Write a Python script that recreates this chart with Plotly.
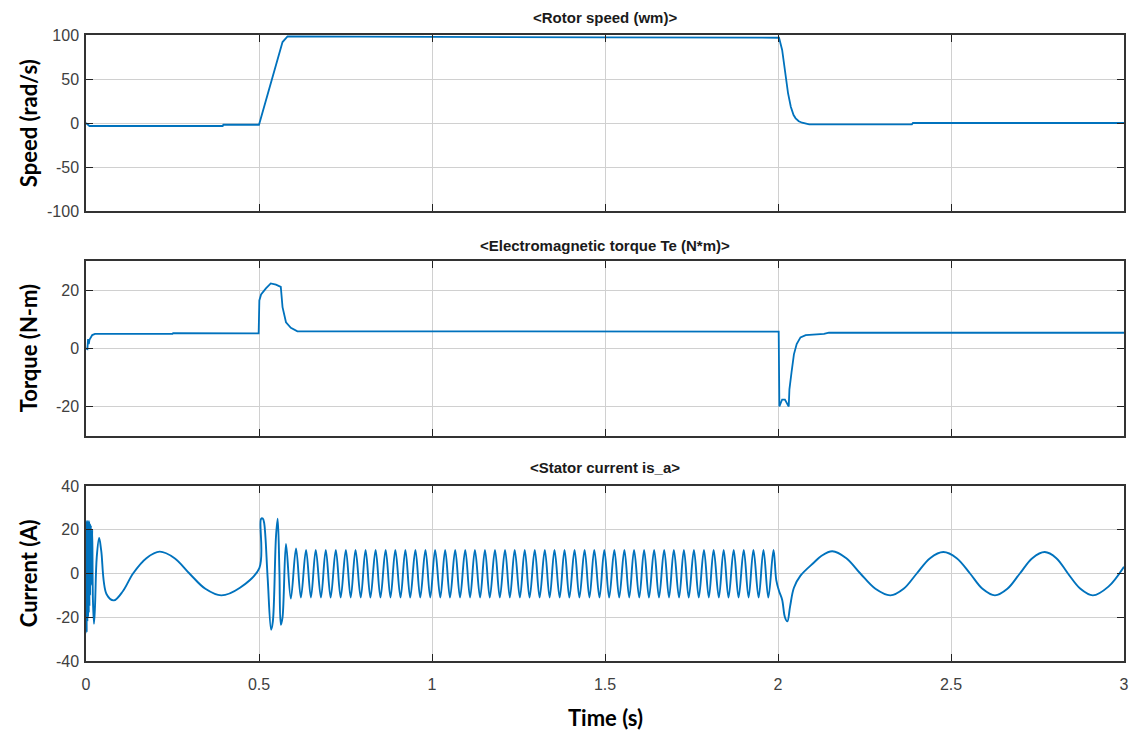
import plotly.graph_objects as go
from plotly.subplots import make_subplots

# ---------------- data ----------------
speed_t = [0, 0.004, 0.01, 0.395, 0.397, 0.5, 0.52, 0.539, 0.554, 0.568, 0.5825, 0.59,
           1.0, 1.5, 2.003, 2.012, 2.022, 2.029, 2.037, 2.045, 2.051, 2.06, 2.07, 2.09,
           2.387, 2.39, 3.0]
speed_v = [0, -1, -3.4, -3.4, -2, -2, 26, 52.6, 75, 92, 98.5, 98.5,
           97.8, 97.2, 96.9, 83, 51, 34, 18.5, 9, 5.3, 2, 0.3, -1.5,
           -1.5, 0, 0]

torque_t = [0, 0.004, 0.006, 0.008, 0.010, 0.013, 0.018, 0.026, 0.25, 0.252, 0.27, 0.272,
            0.499, 0.501, 0.506, 0.52, 0.534, 0.549, 0.563, 0.568, 0.578, 0.592, 0.611,
            2.002, 2.004, 2.012, 2.02, 2.031, 2.033, 2.039, 2.046, 2.054, 2.065, 2.08,
            2.104, 2.133, 2.147, 3.0]
torque_v = [0, -0.2, 3.2, 1.5, 3.0, 3.5, 4.6, 5.0, 5.0, 5.3, 5.3, 5.2,
            5.2, 16.5, 18.5, 20.6, 22.3, 21.9, 21.1, 14.2, 9, 7.1, 5.9,
            5.8, -19.9, -17.5, -17.5, -19.9, -14, -8.3, -2, 1.5, 3.8, 4.6,
            4.8, 5.0, 5.4, 5.4]

# stator current: start-up transient
cur_start_t = [0, 0.001, 0.002, 0.003, 0.004, 0.005, 0.006, 0.007, 0.008, 0.009, 0.010,
               0.011, 0.012, 0.014, 0.016, 0.018, 0.020, 0.023, 0.026, 0.031, 0.038, 0.044,
               0.0595, 0.0806, 0.107, 0.136, 0.1745, 0.213, 0.256, 0.299, 0.345, 0.391,
               0.445, 0.501]
cur_start_v = [0, 24, -27, 24, -22, 24, -20, 24, -18, 24, -15,
               23, -10, 22, -5, 20, -12, -23, -15, 7.4, 16.2, 10.5,
               -9.5, -12.3, -8, 0, 7, 10, 7, 0, -7, -10,
               -6.5, 2.5]
# speed-up burst
cur_burst_t = [0.506, 0.511, 0.515, 0.525, 0.535, 0.540, 0.549, 0.554, 0.559, 0.563, 0.568]
cur_burst_v = [25, 25.1, 23, -2, -25.7, -22, 16.6, 25, 1.2, -23.4, -20]
# steady high-speed oscillation: peaks and troughs
peak_t = [0.578, 0.607, 0.636, 0.664, 0.693, 0.722, 0.751, 0.779, 0.808, 0.837,
          0.866, 0.894, 0.923, 0.952, 0.981, 1.009, 1.038, 1.067, 1.096, 1.124,
          1.153, 1.182, 1.211, 1.239, 1.268, 1.297, 1.326, 1.354, 1.383, 1.412,
          1.441, 1.469, 1.498, 1.527, 1.556, 1.584, 1.613, 1.642, 1.671, 1.699,
          1.728, 1.757, 1.786, 1.814, 1.843, 1.872, 1.901, 1.929, 1.958, 1.987]
peak_v = [13.5, 11.5] + [10.8] * 48
trough_t = [0.592, 0.621, 0.650, 0.679, 0.707, 0.736, 0.765, 0.794, 0.822, 0.851,
            0.880, 0.909, 0.937, 0.966, 0.995, 1.024, 1.052, 1.081, 1.110, 1.139,
            1.167, 1.196, 1.225, 1.254, 1.282, 1.311, 1.340, 1.369, 1.397, 1.426,
            1.455, 1.484, 1.512, 1.541, 1.570, 1.599, 1.627, 1.656, 1.685, 1.714,
            1.742, 1.771, 1.800, 1.829, 1.857, 1.886, 1.915, 1.944, 1.972]
trough_v = [-11.5] + [-11] * 48
# braking transient and low-speed sine
cur_end_t = [1.995, 2.003, 2.012, 2.020, 2.027, 2.035, 2.046, 2.065, 2.104, 2.125, 2.157,
             2.1975, 2.238, 2.2815, 2.325, 2.363, 2.401, 2.4395, 2.478, 2.5165, 2.555, 2.591,
             2.627, 2.663, 2.699, 2.735, 2.771, 2.8045, 2.838, 2.874, 2.910, 2.955, 3.0]
cur_end_v = [-3, -8, -12, -20, -21.9, -15, -6.5, -1, 5, 8, 10.2,
             7, 0, -7, -10, -7, 0, 7, 9.8, 7, 0, -7,
             -10, -7, 0, 7, 9.8, 7, 0, -7, -10, -6, 3.1]

x_ticks = [0, 0.5, 1, 1.5, 2, 2.5, 3]
x_tick_labels = ["0", "0.5", "1", "1.5", "2", "2.5", "3"]
speed_ticks = [-100, -50, 0, 50, 100]
speed_tick_labels = ["-100", "-50", "0", "50", "100"]
torque_ticks = [-20, 0, 20]
torque_tick_labels = ["-20", "0", "20"]
current_ticks = [-40, -20, 0, 20, 40]
current_tick_labels = ["-40", "-20", "0", "20", "40"]

# assemble current trace
mid_t, mid_v = [], []
for i in range(len(peak_t)):
    mid_t.append(peak_t[i]); mid_v.append(peak_v[i])
    if i < len(trough_t):
        mid_t.append(trough_t[i]); mid_v.append(trough_v[i])
cur_t = cur_start_t + cur_burst_t + mid_t + cur_end_t
cur_v = cur_start_v + cur_burst_v + mid_v + cur_end_v

# ---------------- figure ----------------
W, H = 1141, 731
ml, mr, mt, mb = 86, 13, 35, 70
ph = H - mt - mb

def dom(top_px, bot_px):
    return [(H - mb - bot_px) / ph, (H - mb - top_px) / ph]

fig = make_subplots(rows=3, cols=1, shared_xaxes=False)
blue = "#0072BD"
fig.add_trace(go.Scatter(x=speed_t, y=speed_v, mode="lines",
                         line=dict(color=blue, width=1.8)), row=1, col=1)
fig.add_trace(go.Scatter(x=torque_t, y=torque_v, mode="lines",
                         line=dict(color=blue, width=1.8)), row=2, col=1)
fig.add_trace(go.Scatter(x=cur_t, y=cur_v, mode="lines",
                         line=dict(color=blue, width=1.9, shape="spline", smoothing=1.0)),
              row=3, col=1)

axcommon = dict(showline=True, linecolor="#333333", linewidth=1.5, mirror="ticks",
                ticks="inside", ticklen=7, tickcolor="#222222", tickwidth=1.3,
                showgrid=True, gridcolor="#d0d0d0", gridwidth=1, zeroline=False,
                tickfont=dict(family="Liberation Sans, Arial", size=16, color="#404040"))

domains = [dom(35, 211), dom(261, 436), dom(486, 661)]
yranges = [[-100, 100], [-30, 30], [-40, 40]]
ytickvals = [speed_ticks, torque_ticks, current_ticks]
yticktext = [speed_tick_labels, torque_tick_labels, current_tick_labels]
for i in range(3):
    xa = "xaxis" if i == 0 else f"xaxis{i+1}"
    ya = "yaxis" if i == 0 else f"yaxis{i+1}"
    fig.layout[xa].update(range=[0, 3], tickvals=x_ticks, ticktext=x_tick_labels,
                          showticklabels=(i == 2), ticklabelstandoff=8, **axcommon)
    fig.layout[ya].update(range=yranges[i], tickvals=ytickvals[i], ticktext=yticktext[i],
                          domain=domains[i], ticklabelstandoff=2, **axcommon)

titles = ["&lt;Rotor speed (wm)&gt;", "&lt;Electromagnetic torque Te (N*m)&gt;",
          "&lt;Stator current is_a&gt;"]
title_y = [18, 245, 467]
ylabels = ["Speed (rad/s)", "Torque (N-m)", "Current (A)"]
ylabel_y = [123, 348, 573]
pw = W - ml - mr
for i in range(3):
    fig.add_annotation(text="<b>" + titles[i] + "</b>", xref="paper", yref="paper",
                       x=0.5, y=(H - mb - title_y[i]) / ph, showarrow=False,
                       xanchor="center", yanchor="middle",
                       font=dict(family="Liberation Sans, Arial", size=15, color="#1a1a1a"))
    fig.add_annotation(text="<b>" + ylabels[i] + "</b>", xref="paper", yref="paper",
                       x=(28 - ml) / pw, y=(H - mb - ylabel_y[i]) / ph, showarrow=False,
                       textangle=-90, xanchor="center", yanchor="middle",
                       font=dict(family="Lato", size=22, color="black"))
fig.add_annotation(text="<b>Time (s)</b>", xref="paper", yref="paper",
                   x=(607 - ml) / pw, y=(H - mb - 717) / ph, showarrow=False,
                   xanchor="center", yanchor="middle",
                   font=dict(family="Lato", size=22, color="black"))

fig.update_layout(width=W, height=H, margin=dict(l=ml, r=mr, t=mt, b=mb),
                  paper_bgcolor="white", plot_bgcolor="white", showlegend=False)

fig.write_html("out.html")
